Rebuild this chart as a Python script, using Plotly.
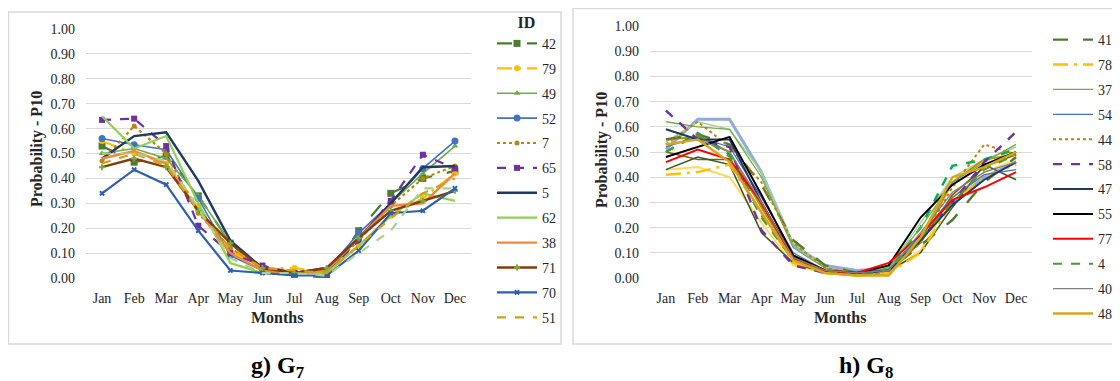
import plotly.graph_objects as go

months = ["Jan", "Feb", "Mar", "Apr", "May", "Jun", "Jul", "Aug", "Sep", "Oct", "Nov", "Dec"]

# ---------- G7 panel ----------
g7_ids = ["42", "79", "49", "52", "7", "65", "5", "62", "38", "71", "70", "51"]
g7_42 = [0.53, 0.465, 0.49, 0.33, 0.14, 0.03, 0.015, 0.00, 0.19, 0.34, 0.40, 0.43]
g7_79 = [0.55, 0.50, 0.46, 0.29, 0.11, 0.04, 0.04, 0.02, 0.13, 0.25, 0.32, 0.42]
g7_49 = [0.50, 0.52, 0.48, 0.33, 0.14, 0.03, 0.02, 0.03, 0.16, 0.30, 0.42, 0.53]
g7_52 = [0.56, 0.535, 0.515, 0.32, 0.09, 0.03, 0.02, 0.03, 0.18, 0.30, 0.44, 0.55]
g7_7 = [0.47, 0.61, 0.50, 0.26, 0.12, 0.04, 0.02, 0.03, 0.15, 0.29, 0.40, 0.45]
g7_65 = [0.635, 0.64, 0.53, 0.21, 0.10, 0.05, 0.02, 0.02, 0.15, 0.31, 0.495, 0.44]
g7_5 = [0.48, 0.57, 0.585, 0.39, 0.15, 0.04, 0.02, 0.04, 0.16, 0.30, 0.445, 0.45]
g7_62 = [0.65, 0.52, 0.57, 0.30, 0.06, 0.02, 0.02, 0.02, 0.13, 0.25, 0.34, 0.31]
g7_38 = [0.48, 0.51, 0.46, 0.27, 0.10, 0.03, 0.02, 0.03, 0.16, 0.29, 0.30, 0.42]
g7_71 = [0.445, 0.48, 0.445, 0.27, 0.14, 0.04, 0.02, 0.04, 0.16, 0.27, 0.31, 0.35]
g7_70 = [0.34, 0.435, 0.375, 0.19, 0.03, 0.02, 0.01, 0.01, 0.11, 0.26, 0.27, 0.36]
g7_51 = [0.46, 0.50, 0.45, 0.27, 0.12, 0.04, 0.03, 0.02, 0.13, 0.24, 0.34, 0.40]
g7_extra = [0.50, 0.50, 0.47, 0.28, 0.08, 0.02, 0.02, 0.01, 0.10, 0.19, 0.36, 0.36]

# ---------- G8 panel ----------
g8_ids = ["41", "78", "37", "54", "44", "58", "47", "55", "77", "4", "40", "48"]
g8_41 = [0.55, 0.57, 0.53, 0.37, 0.15, 0.05, 0.02, 0.03, 0.13, 0.23, 0.38, 0.48]
g8_78 = [0.41, 0.42, 0.45, 0.26, 0.06, 0.02, 0.01, 0.02, 0.10, 0.30, 0.40, 0.45]
g8_37 = [0.62, 0.60, 0.59, 0.40, 0.12, 0.04, 0.02, 0.04, 0.20, 0.38, 0.46, 0.53]
g8_54 = [0.52, 0.56, 0.52, 0.32, 0.10, 0.03, 0.02, 0.03, 0.17, 0.32, 0.41, 0.43]
g8_44 = [0.53, 0.62, 0.52, 0.38, 0.14, 0.04, 0.02, 0.03, 0.14, 0.36, 0.53, 0.49]
g8_58 = [0.664, 0.55, 0.52, 0.19, 0.05, 0.02, 0.02, 0.03, 0.15, 0.30, 0.46, 0.58]
g8_47 = [0.59, 0.55, 0.55, 0.30, 0.08, 0.02, 0.02, 0.03, 0.15, 0.29, 0.39, 0.46]
g8_55 = [0.48, 0.52, 0.56, 0.33, 0.09, 0.03, 0.02, 0.05, 0.24, 0.37, 0.45, 0.50]
g8_77 = [0.46, 0.51, 0.47, 0.30, 0.08, 0.03, 0.02, 0.06, 0.17, 0.31, 0.36, 0.42]
g8_4 = [0.50, 0.57, 0.48, 0.24, 0.07, 0.03, 0.01, 0.03, 0.16, 0.30, 0.43, 0.49]
g8_40 = [0.53, 0.55, 0.50, 0.30, 0.08, 0.03, 0.02, 0.03, 0.18, 0.34, 0.42, 0.46]
g8_48 = [0.53, 0.55, 0.46, 0.26, 0.07, 0.02, 0.01, 0.01, 0.16, 0.40, 0.44, 0.50]
g8_extra_lightblue = [0.51, 0.63, 0.63, 0.42, 0.13, 0.05, 0.03, 0.04, 0.15, 0.30, 0.40, 0.46]
g8_extra_lightgreen = [0.54, 0.62, 0.59, 0.42, 0.14, 0.04, 0.02, 0.04, 0.22, 0.40, 0.47, 0.52]
g8_extra_brightgreen = [0.50, 0.575, 0.49, 0.25, 0.08, 0.03, 0.02, 0.03, 0.20, 0.445, 0.47, 0.51]
g8_extra_lightyellow = [0.43, 0.44, 0.40, 0.22, 0.05, 0.02, 0.01, 0.02, 0.11, 0.32, 0.42, 0.47]
g8_extra_darkolive = [0.50, 0.47, 0.47, 0.29, 0.09, 0.03, 0.02, 0.03, 0.14, 0.33, 0.44, 0.49]
g8_extra_darkgreen = [0.43, 0.48, 0.45, 0.18, 0.06, 0.02, 0.02, 0.03, 0.10, 0.28, 0.45, 0.39]
g8_extra_gold = [0.55, 0.56, 0.50, 0.28, 0.08, 0.02, 0.01, 0.02, 0.15, 0.38, 0.47, 0.49]

FONT = "Liberation Serif"
W, H = 1120, 381
OFF = 8  # page body margin
TXT = "#262626"


def px(x):
    return (x - OFF) / W


def py(y):
    return 1 - (y - OFF) / H


fig = go.Figure()

g7_styles = [
    (g7_42, "#4E7B31", "longdash", "square", 7, 2.2),
    (g7_79, "#FFC000", "longdashdot", "circle", 6, 2.2),
    (g7_49, "#70AD47", "solid", "triangle-up", 6, 1.6),
    (g7_52, "#4472C4", "solid", "circle", 7, 1.6),
    (g7_7, "#B8860B", "dot", "circle", 5, 2.2),
    (g7_65, "#7030A0", "dash", "square", 6, 2.2),
    (g7_5, "#203864", "solid", None, 0, 2.4),
    (g7_62, "#92D050", "solid", None, 0, 2.2),
    (g7_38, "#F4873A", "solid", None, 0, 2.4),
    (g7_71, "#843C0C", "solid", "cross", 5, 2.4),
    (g7_70, "#2F5FAE", "solid", "x", 5, 2.2),
    (g7_51, "#D4A017", "dash", None, 0, 2.2),
]

for name, (vals, color, dash, sym, msize, lw) in zip(g7_ids, g7_styles):
    mode = "lines+markers" if sym else "lines"
    mcolor = "#70AD47" if name == "71" else color
    fig.add_trace(go.Scatter(
        x=months, y=vals, name=name, mode=mode,
        line=dict(color=color, dash=dash, width=lw),
        marker=dict(symbol=sym or "circle", size=msize, color=mcolor),
        xaxis="x", yaxis="y", legend="legend", legendgroup="a" + name,
    ))

fig.add_trace(go.Scatter(
    x=months, y=g7_extra, mode="lines", showlegend=False,
    line=dict(color="#A9D18E", dash="dash", width=2.2), xaxis="x", yaxis="y",
))

g8_extras = [
    (g8_extra_lightblue, "#8FAADC", "solid", 3),
    (g8_extra_lightgreen, "#A9D18E", "solid", 1.5),
    (g8_extra_lightyellow, "#FFD966", "solid", 2),
    (g8_extra_darkolive, "#7F6000", "solid", 1.5),
    (g8_extra_darkgreen, "#375623", "solid", 1.5),
    (g8_extra_gold, "#BF9000", "solid", 2),
    (g8_extra_brightgreen, "#00B050", "dash", 2.5),
]
for vals, color, dash, lw in g8_extras:
    fig.add_trace(go.Scatter(
        x=months, y=vals, mode="lines", showlegend=False,
        line=dict(color=color, dash=dash, width=lw), xaxis="x2", yaxis="y2",
    ))

g8_styles = [
    (g8_41, "#4E7B31", "longdash", 2.4),
    (g8_78, "#FFC000", "longdashdot", 2.4),
    (g8_37, "#70AD47", "solid", 1.3),
    (g8_54, "#4472C4", "solid", 1.3),
    (g8_44, "#B8860B", "dot", 2),
    (g8_58, "#7030A0", "dash", 2.4),
    (g8_47, "#203864", "solid", 2),
    (g8_55, "#000000", "solid", 2),
    (g8_77, "#FF0000", "solid", 2),
    (g8_4, "#4E9A2E", "dash", 2),
    (g8_40, "#808080", "solid", 1.2),
    (g8_48, "#D9A520", "solid", 2.4),
]
for name, (vals, color, dash, lw) in zip(g8_ids, g8_styles):
    fig.add_trace(go.Scatter(
        x=months, y=vals, name=name, mode="lines",
        line=dict(color=color, dash=dash, width=lw),
        xaxis="x2", yaxis="y2", legend="legend2", legendgroup="b" + name,
    ))

axis_common = dict(
    tickfont=dict(family=FONT, size=14, color=TXT),
    showline=False, zeroline=False,
)
yaxis_common = dict(
    range=[0, 1], dtick=0.1, tick0=0, tickformat=".2f",
    showgrid=True, gridcolor="#D9D9D9", gridwidth=1,
    ticks="", ticklabelstandoff=10, **axis_common,
)
xaxis_common = dict(
    type="category", range=[-0.5, 11.5], showgrid=False,
    ticks="", ticklabelstandoff=10, **axis_common,
)

legend_common = dict(
    font=dict(family=FONT, size=14, color=TXT),
    bgcolor="rgba(0,0,0,0)", tracegroupgap=3.7, itemwidth=40,
    xanchor="left", yanchor="top", traceorder="grouped", maxheight=400,
)


def ann(text, x, y, size, angle=0, color=TXT):
    return dict(text=text, x=px(x), y=py(y), xref="paper", yref="paper",
                xanchor="center", yanchor="middle", textangle=angle,
                showarrow=False, font=dict(family=FONT, size=size, color=color))


fig.update_layout(
    width=W, height=H,
    margin=dict(l=0, r=0, t=0, b=0, autoexpand=False),
    paper_bgcolor="white", plot_bgcolor="white",
    font=dict(family=FONT, color=TXT),
    xaxis=dict(domain=[px(86), px(471)], anchor="y", **xaxis_common),
    yaxis=dict(domain=[py(278), py(29)], anchor="x", **yaxis_common),
    xaxis2=dict(domain=[px(650), px(1032)], anchor="y2", **xaxis_common),
    yaxis2=dict(domain=[py(278), py(26)], anchor="x2", **yaxis_common),
    legend=dict(x=px(492), y=py(7), title=dict(text="<b>ID</b>", side="top center",
                font=dict(family=FONT, size=16, color=TXT)), **legend_common),
    legend2=dict(x=px(1048), y=py(24), **legend_common),
    shapes=[
        dict(type="rect", xref="paper", yref="paper", x0=px(8.5), x1=px(561), y0=py(344), y1=py(12),
             line=dict(color="#D9D9D9", width=1.5)),
        dict(type="rect", xref="paper", yref="paper", x0=px(573), x1=px(1119), y0=py(344), y1=py(8.5),
             line=dict(color="#D9D9D9", width=1.5)),
    ],
    annotations=[
        ann("<b>Probability - P10</b>", 37, 149, 16, -90),
        ann("<b>Probability - P10</b>", 602, 150, 16, -90),
        ann("<b>Months</b>", 277, 317, 16),
        ann("<b>Months</b>", 840, 317, 16),
        ann("<b>g) G<sub>7</sub></b>", 277, 367, 24, color="#000000"),
        ann("<b>h) G<sub>8</sub></b>", 866, 367, 24, color="#000000"),
    ],
)

fig.write_html("out.html")
